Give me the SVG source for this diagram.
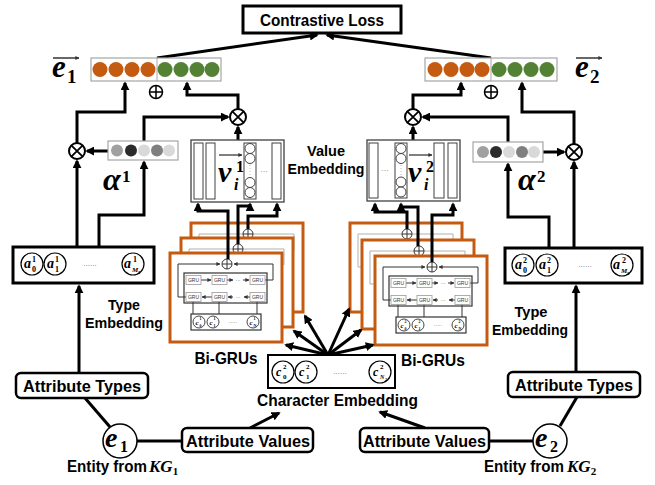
<svg xmlns="http://www.w3.org/2000/svg" width="655" height="485" viewBox="0 0 655 485">
<style>
.lbl{font-family:"Liberation Sans",Arial,sans-serif;font-weight:bold;fill:#000}
.m{font-family:"Liberation Serif","DejaVu Serif",serif;font-style:italic;font-weight:bold;fill:#000}
.d{font-family:"Liberation Serif","DejaVu Serif",serif;font-style:normal;font-weight:bold;fill:#000}
.th{fill:none;stroke:#000;stroke-width:3;marker-end:url(#ah)}
.tl{fill:none;stroke:#000;stroke-width:3}
.box{fill:#fff;stroke:#000;stroke-width:3}
.rb{fill:#fff;stroke:#000;stroke-width:2.5}
.vec{fill:#fff;stroke:#a6a6a6;stroke-width:1.2}
.o{fill:#C55A11}.g{fill:#548235}
.op{fill:#fff;stroke:#000;stroke-width:2}
.ve{fill:#fff;stroke:#404040;stroke-width:1.3}
.bar{fill:#fff;stroke:#404040;stroke-width:1}
.sc{fill:#fff;stroke:#000;stroke-width:1.2}
.dots{font-family:"Liberation Sans",Arial,sans-serif;font-size:8px;fill:#777}
.gru{font-family:"Liberation Sans",Arial,sans-serif;font-size:5px;fill:#333}
</style>
<defs>
<marker id="ah" viewBox="0 0 10 10" refX="8" refY="5" markerWidth="9" markerHeight="9" markerUnits="userSpaceOnUse" orient="auto"><path d="M0,0 L10,5 L0,10 z" fill="#000"/></marker>
<marker id="sa" viewBox="0 0 10 10" refX="9" refY="5" markerWidth="4" markerHeight="4" markerUnits="userSpaceOnUse" orient="auto"><path d="M0,0 L10,5 L0,10 z" fill="#333"/></marker>
<g id="oplus"><circle r="5" fill="#fff" stroke="#333" stroke-width="1"/><path d="M-5 0 H5 M0 -5 V5" stroke="#333" stroke-width="1"/></g>
<g id="stkback">
<rect x="0" y="0" width="112" height="89" fill="#fff" stroke="#C55A11" stroke-width="3"/>
<path d="M16 44 H8 V11 H103 V27" fill="none" stroke="#b0b0b0" stroke-width="1"/>
<rect x="14" y="20" width="83" height="30" fill="none" stroke="#c8c8c8" stroke-width="1"/>
<use href="#oplus" x="57" y="11"/>
</g>
<g id="stk">
<rect x="0" y="0" width="112" height="89" fill="#fff" stroke="#C55A11" stroke-width="3"/>
<g fill="none" stroke="#333" stroke-width="1">
<path d="M16 44 H8 V11 H50" marker-end="url(#sa)"/>
<path d="M95 27 H103 V11 H64" marker-end="url(#sa)"/>
<rect x="14" y="20" width="83" height="30" stroke-width="1.2"/>
<path d="M31 27 H41" marker-end="url(#sa)"/>
<path d="M57 27 H63" marker-end="url(#sa)"/>
<path d="M73 27 H79" marker-end="url(#sa)"/>
<path d="M42 44 H32" marker-end="url(#sa)"/>
<path d="M63 44 H58" marker-end="url(#sa)"/>
<path d="M80 44 H74" marker-end="url(#sa)"/>
<path d="M23 48.5 V61 M49 48.5 V61 M87 48.5 V61"/>
<rect x="21" y="61" width="70" height="16" stroke-width="1.2"/>
</g>
<g fill="#fff" stroke="#999" stroke-width="0.8">
<rect x="16" y="22.5" width="15" height="9"/><rect x="42" y="22.5" width="15" height="9"/><rect x="80" y="22.5" width="15" height="9"/>
<rect x="16" y="39.5" width="15" height="9"/><rect x="42" y="39.5" width="15" height="9"/><rect x="80" y="39.5" width="15" height="9"/>
</g>
<g class="gru" text-anchor="middle">
<text x="23.5" y="28.8">GRU</text><text x="49.5" y="28.8">GRU</text><text x="87.5" y="28.8">GRU</text>
<text x="23.5" y="45.8">GRU</text><text x="49.5" y="45.8">GRU</text><text x="87.5" y="45.8">GRU</text>
</g>
<text class="gru" x="68" y="28.5" text-anchor="middle">···</text>
<text class="gru" x="68" y="45.5" text-anchor="middle">···</text>
<g fill="#fff" stroke="#333" stroke-width="0.9">
<circle cx="29" cy="69" r="6"/><circle cx="43" cy="69" r="6"/><circle cx="83" cy="69" r="6"/>
</g>
<text class="gru" x="63" y="71" text-anchor="middle">·····</text>
<use href="#oplus" x="57" y="11"/>
</g>
</defs>
<rect width="655" height="485" fill="#fff"/>

<g id="bigru-left">
<use href="#stkback" x="191" y="223"/>
<use href="#stkback" x="181" y="238"/>
<g transform="translate(170,253)">
<use href="#stk"/>
<g class="m" font-size="7"><text x="25.5" y="71.5">c</text><text x="39.5" y="71.5">c</text><text x="79.5" y="71.5">c</text></g>
<g class="d" font-size="4"><text x="29.5" y="67">1</text><text x="29.5" y="73.5">0</text><text x="43.5" y="67">1</text><text x="43.5" y="73.5">1</text><text x="83.5" y="67">1</text><text x="83.5" y="73.5">N</text></g>
</g>
<text class="lbl" x="226" y="364" font-size="16.5" text-anchor="middle" textLength="63" lengthAdjust="spacingAndGlyphs">Bi-GRUs</text>
</g>
<g id="bigru-right">
<use href="#stkback" x="350" y="223"/>
<use href="#stkback" x="362" y="240"/>
<g transform="translate(375,256)">
<use href="#stk"/>
<g class="m" font-size="7"><text x="25.5" y="71.5">c</text><text x="39.5" y="71.5">c</text><text x="79.5" y="71.5">c</text></g>
<g class="d" font-size="4"><text x="29.5" y="67">2</text><text x="29.5" y="73.5">0</text><text x="43.5" y="67">2</text><text x="43.5" y="73.5">1</text><text x="83.5" y="67">2</text><text x="83.5" y="73.5">N</text></g>
</g>
<text class="lbl" x="433" y="366" font-size="16.5" text-anchor="middle" textLength="64" lengthAdjust="spacingAndGlyphs">Bi-GRUs</text>
</g>

<g id="connectors">
<path class="th" d="M157 58 L317 35"/>
<path class="th" d="M491 58 L327 35"/>
<path class="th" d="M77 143 V112 H125 V83"/>
<path class="th" d="M238 109 V95 H187 V83"/>
<path class="th" d="M144 141 V117 H228"/>
<path class="th" d="M108 151 H87"/>
<path class="th" d="M77 247 V161"/>
<path class="th" d="M99 247 V215 H144 V162"/>
<path class="th" d="M238 140 V127"/>
<path class="th" d="M79 372 V286"/>
<path class="th" d="M228 259 V211 H198 V204"/>
<path class="th" d="M238 244 V206 H250 V204"/>
<path class="th" d="M248 229 V216 H277 V204"/>
<path class="th" d="M413 109 V95 H461 V83"/>
<path class="th" d="M574 144 V112 H522 V83"/>
<path class="th" d="M508 142 V117 H423"/>
<path class="th" d="M543 152 H564"/>
<path class="th" d="M574 248 V162"/>
<path class="th" d="M549 248 V217 H508 V164"/>
<path class="th" d="M413 140 V127"/>
<path class="th" d="M576 372 V286"/>
<path class="th" d="M407 229 V212 H375 V204"/>
<path class="th" d="M418 246 V207 H401 V204"/>
<path class="th" d="M432 262 V215 H453 V204"/>
<path class="th" d="M328 355 L305 316"/>
<path class="th" d="M328 355 L294 331"/>
<path class="th" d="M328 355 L286 345"/>
<path class="th" d="M328 355 L349 309"/>
<path class="th" d="M328 355 L361 330"/>
<path class="th" d="M328 355 L373 345"/>
<path class="tl" d="M85 398 L110 427"/>
<path class="tl" d="M137 441 H182"/>
<path class="th" d="M250 428 L279 413"/>
<path class="tl" d="M577 397 L560 426"/>
<path class="tl" d="M533 441 H489"/>
<path class="th" d="M425 428 L380 412"/>
</g>

<g id="contrastive-loss">
<rect class="box" x="243" y="6" width="158" height="27"/>
<text class="lbl" x="322" y="26" font-size="16.5" text-anchor="middle" textLength="124" lengthAdjust="spacingAndGlyphs">Contrastive Loss</text>
</g>

<g id="e1-vector">
<rect class="vec" x="91" y="58" width="130" height="23"/>
<line x1="157" y1="58" x2="157" y2="81" stroke="#a6a6a6" stroke-width="1"/>
<circle class="o" cx="100" cy="69.5" r="7.5"/><circle class="o" cx="116" cy="69.5" r="7.5"/><circle class="o" cx="132" cy="69.5" r="7.5"/><circle class="o" cx="148" cy="69.5" r="7.5"/>
<circle class="g" cx="165" cy="69.5" r="7.5"/><circle class="g" cx="181" cy="69.5" r="7.5"/><circle class="g" cx="197" cy="69.5" r="7.5"/><circle class="g" cx="212" cy="69.5" r="7.5"/>
<path d="M53 58 H79" stroke="#000" stroke-width="1.2" marker-end="url(#sa)"/>
<text class="m" x="52" y="77" font-size="31">e</text><text class="d" x="67" y="83" font-size="19">1</text>
<g transform="translate(156,92)"><circle r="6.5" fill="#fff" stroke="#000" stroke-width="1.5"/><path d="M-6.5 0 H6.5 M0 -6.5 V6.5" stroke="#000" stroke-width="1.5"/></g>
</g>

<g id="e2-vector">
<rect class="vec" x="425" y="58" width="132" height="23"/>
<line x1="491" y1="58" x2="491" y2="81" stroke="#a6a6a6" stroke-width="1"/>
<circle class="o" cx="435" cy="69.5" r="7.5"/><circle class="o" cx="451" cy="69.5" r="7.5"/><circle class="o" cx="467" cy="69.5" r="7.5"/><circle class="o" cx="482" cy="69.5" r="7.5"/>
<circle class="g" cx="499" cy="69.5" r="7.5"/><circle class="g" cx="515" cy="69.5" r="7.5"/><circle class="g" cx="531" cy="69.5" r="7.5"/><circle class="g" cx="547" cy="69.5" r="7.5"/>
<path d="M576 58 H602" stroke="#000" stroke-width="1.2" marker-end="url(#sa)"/>
<text class="m" x="575" y="77" font-size="31">e</text><text class="d" x="590" y="83" font-size="19">2</text>
<g transform="translate(491,92)"><circle r="6.5" fill="#fff" stroke="#000" stroke-width="1.5"/><path d="M-6.5 0 H6.5 M0 -6.5 V6.5" stroke="#000" stroke-width="1.5"/></g>
</g>

<g id="otimes-left-type"><circle class="op" cx="77" cy="151" r="8"/><path d="M71.3 145.3 L82.7 156.7 M82.7 145.3 L71.3 156.7" stroke="#000" stroke-width="1.8"/></g>
<g id="otimes-left-value"><circle class="op" cx="238" cy="117" r="8"/><path d="M232.3 111.3 L243.7 122.7 M243.7 111.3 L232.3 122.7" stroke="#000" stroke-width="1.8"/></g>
<g id="otimes-right-value"><circle class="op" cx="413" cy="117" r="8"/><path d="M407.3 111.3 L418.7 122.7 M418.7 111.3 L407.3 122.7" stroke="#000" stroke-width="1.8"/></g>
<g id="otimes-right-type"><circle class="op" cx="574" cy="152" r="8"/><path d="M568.3 146.3 L579.7 157.7 M579.7 146.3 L568.3 157.7" stroke="#000" stroke-width="1.8"/></g>

<g id="alpha1">
<rect class="vec" x="108" y="141" width="70" height="19" fill="#f7f7f7"/>
<circle cx="117" cy="150.5" r="6" fill="#a0a0a0"/><circle cx="131" cy="150.5" r="6" fill="#2b2b2b"/><circle cx="144" cy="150.5" r="6" fill="#d9d9d9"/><circle cx="157" cy="150.5" r="6" fill="#7f7f7f"/><circle cx="169" cy="150.5" r="6" fill="#d9d9d9"/>
<text class="m" x="103" y="190" font-size="32">α</text><text class="d" x="122" y="182" font-size="17">1</text>
</g>
<g id="alpha2">
<rect class="vec" x="473" y="142" width="70" height="20" fill="#f7f7f7"/>
<circle cx="483" cy="152" r="6" fill="#a0a0a0"/><circle cx="496" cy="152" r="6" fill="#2b2b2b"/><circle cx="509" cy="152" r="6" fill="#d9d9d9"/><circle cx="522" cy="152" r="6" fill="#7f7f7f"/><circle cx="534" cy="152" r="6" fill="#d9d9d9"/>
<text class="m" x="518" y="190" font-size="32">α</text><text class="d" x="537" y="182" font-size="17">2</text>
</g>

<g id="value-embedding-left">
<rect class="ve" x="191" y="140" width="93" height="62"/>
<rect class="bar" x="194" y="143" width="9" height="56"/>
<rect class="bar" x="206" y="143" width="9" height="56"/>
<rect class="bar" x="244" y="143" width="12" height="56"/>
<circle class="bar" cx="250" cy="148.5" r="5"/><circle class="bar" cx="250" cy="158.5" r="5"/><circle class="bar" cx="250" cy="182.5" r="5"/><circle class="bar" cx="250" cy="192.5" r="5"/>
<path d="M250 165 V176" stroke="#bbb" stroke-width="1" stroke-dasharray="1 2"/>
<rect class="bar" x="272" y="143" width="9" height="56"/>
<text class="dots" x="264" y="174" text-anchor="middle">···</text>
<path d="M219 155 H242" stroke="#000" stroke-width="1" marker-end="url(#sa)"/>
<text class="m" x="218" y="182" font-size="30" font-weight="normal">v</text>
<text class="d" x="236" y="172" font-size="16">1</text>
<text class="m" x="234" y="190" font-size="16">i</text>
</g>
<g id="value-embedding-right">
<rect class="ve" x="367" y="140" width="93" height="61"/>
<rect class="bar" x="369" y="143" width="9" height="55"/>
<text class="dots" x="385" y="173" text-anchor="middle">···</text>
<rect class="bar" x="395" y="143" width="12" height="55"/>
<circle class="bar" cx="401" cy="148.5" r="5"/><circle class="bar" cx="401" cy="158.5" r="5"/><circle class="bar" cx="401" cy="182" r="5"/><circle class="bar" cx="401" cy="192" r="5"/>
<path d="M401 165 V175" stroke="#bbb" stroke-width="1" stroke-dasharray="1 2"/>
<rect class="bar" x="434" y="143" width="10" height="55"/>
<rect class="bar" x="448" y="143" width="9" height="55"/>
<path d="M409 155 H432" stroke="#000" stroke-width="1" marker-end="url(#sa)"/>
<text class="m" x="408" y="182" font-size="30" font-weight="normal">v</text>
<text class="d" x="426" y="172" font-size="16">2</text>
<text class="m" x="424" y="190" font-size="16">i</text>
</g>
<g id="value-embedding-label">
<text class="lbl" x="326" y="156" font-size="15" text-anchor="middle" textLength="38" lengthAdjust="spacingAndGlyphs">Value</text>
<text class="lbl" x="326" y="174" font-size="15" text-anchor="middle" textLength="77" lengthAdjust="spacingAndGlyphs">Embedding</text>
</g>

<g id="type-embedding-left">
<rect class="box" x="13" y="247" width="141" height="36"/>
<circle class="sc" cx="32" cy="264" r="11"/><circle class="sc" cx="55" cy="264" r="11"/><circle class="sc" cx="133" cy="264" r="11"/>
<g class="m" font-size="14"><text x="24" y="268">a</text><text x="47" y="268">a</text><text x="124" y="268">a</text></g>
<g class="d" font-size="8"><text x="32" y="262">1</text><text x="32" y="272">0</text><text x="55" y="262">1</text><text x="55" y="272">1</text><text x="133" y="262">1</text></g>
<text class="m" x="132" y="272" font-size="7">M</text><text class="d" x="138" y="274" font-size="5">1</text>
<text class="dots" x="90" y="266" text-anchor="middle">......</text>
<text class="lbl" x="124" y="310" font-size="15.5" text-anchor="middle" textLength="32" lengthAdjust="spacingAndGlyphs">Type</text>
<text class="lbl" x="124" y="328" font-size="15.5" text-anchor="middle" textLength="78" lengthAdjust="spacingAndGlyphs">Embedding</text>
</g>
<g id="type-embedding-right">
<rect class="box" x="505" y="248" width="137" height="35"/>
<circle class="sc" cx="523" cy="265" r="11"/><circle class="sc" cx="547" cy="265" r="11"/><circle class="sc" cx="622" cy="265" r="11"/>
<g class="m" font-size="14"><text x="515" y="269">a</text><text x="539" y="269">a</text><text x="613" y="269">a</text></g>
<g class="d" font-size="8"><text x="523" y="263">2</text><text x="523" y="273">0</text><text x="547" y="263">2</text><text x="547" y="273">1</text><text x="622" y="263">2</text></g>
<text class="m" x="621" y="273" font-size="7">M</text><text class="d" x="627" y="275" font-size="5">2</text>
<text class="dots" x="585" y="267" text-anchor="middle">......</text>
<text class="lbl" x="531" y="317" font-size="15.5" text-anchor="middle" textLength="33" lengthAdjust="spacingAndGlyphs">Type</text>
<text class="lbl" x="530" y="335" font-size="15.5" text-anchor="middle" textLength="76" lengthAdjust="spacingAndGlyphs">Embedding</text>
</g>

<g id="character-embedding">
<rect x="268" y="355" width="127" height="33" fill="#fff" stroke="#000" stroke-width="2"/>
<circle class="sc" cx="283" cy="372" r="11"/><circle class="sc" cx="306" cy="372" r="11"/><circle class="sc" cx="380" cy="372" r="11"/>
<g class="m" font-size="12"><text x="276" y="376">c</text><text x="299" y="376">c</text><text x="373" y="376">c</text></g>
<g class="d" font-size="7"><text x="283" y="369">2</text><text x="283" y="379">0</text><text x="306" y="369">2</text><text x="306" y="379">1</text><text x="380" y="369">2</text></g>
<text class="m" x="380" y="379" font-size="6">N</text><text class="d" x="385" y="381" font-size="4.5">2</text>
<text class="dots" x="340" y="374" text-anchor="middle">......</text>
<text class="lbl" x="337.5" y="406" font-size="16.5" text-anchor="middle" textLength="161" lengthAdjust="spacingAndGlyphs">Character Embedding</text>
</g>

<g id="attribute-types-left">
<rect class="rb" x="16" y="373" width="132" height="25" rx="5"/>
<text class="lbl" x="82" y="392" font-size="17" text-anchor="middle" textLength="118" lengthAdjust="spacingAndGlyphs">Attribute Types</text>
</g>
<g id="attribute-values-left">
<rect class="rb" x="182" y="428" width="131" height="24" rx="5"/>
<text class="lbl" x="248" y="446.5" font-size="17" text-anchor="middle" textLength="124" lengthAdjust="spacingAndGlyphs">Attribute Values</text>
</g>
<g id="attribute-types-right">
<rect class="rb" x="508" y="372" width="132" height="25" rx="5"/>
<text class="lbl" x="574" y="391" font-size="17" text-anchor="middle" textLength="118" lengthAdjust="spacingAndGlyphs">Attribute Types</text>
</g>
<g id="attribute-values-right">
<rect class="rb" x="360" y="428" width="129" height="24" rx="5"/>
<text class="lbl" x="424.5" y="446.5" font-size="17" text-anchor="middle" textLength="123" lengthAdjust="spacingAndGlyphs">Attribute Values</text>
</g>

<g id="entity-1">
<circle cx="120" cy="441" r="17" fill="#fff" stroke="#000" stroke-width="1.5"/>
<text class="m" x="105" y="447" font-size="28">e</text><text class="d" x="120" y="452" font-size="16">1</text>
<text class="lbl" x="67" y="472" font-size="16" textLength="80" lengthAdjust="spacingAndGlyphs">Entity from</text>
<text class="m" x="149" y="472" font-size="17">KG<tspan class="d" font-size="11" dy="3">1</tspan></text>
</g>
<g id="entity-2">
<circle cx="550" cy="441" r="17" fill="#fff" stroke="#000" stroke-width="1.5"/>
<text class="m" x="535" y="447" font-size="28">e</text><text class="d" x="550" y="452" font-size="16">2</text>
<text class="lbl" x="484" y="472" font-size="16" textLength="80" lengthAdjust="spacingAndGlyphs">Entity from</text>
<text class="m" x="567" y="472" font-size="17">KG<tspan class="d" font-size="11" dy="3">2</tspan></text>
</g>
</svg>
